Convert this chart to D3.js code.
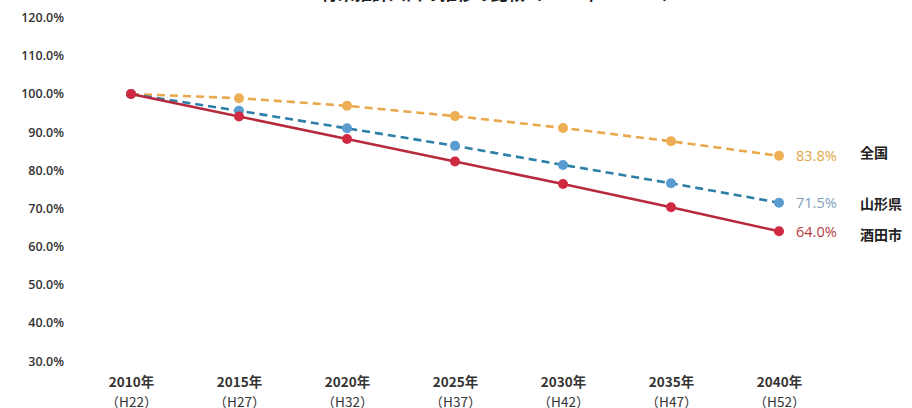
<!DOCTYPE html>
<html><head><meta charset="utf-8">
<script src="https://cdn.jsdelivr.net/npm/d3@7"></script>
<style>
html,body{margin:0;padding:0;background:#fff;}
svg{display:block;}
</style></head>
<body>
<svg id="c" width="912" height="408"></svg>
<script>
const title = "将来推計人口の推移の比較（2010年＝100%）";
const years = ["2010年","2015年","2020年","2025年","2030年","2035年","2040年"];
const eras = ["（H22）","（H27）","（H32）","（H37）","（H42）","（H47）","（H52）"];
const yTicks = [30,40,50,60,70,80,90,100,110,120];
const seriesNames = ["全国","山形県","酒田市"];
const zenkoku = [100, 98.9, 96.9, 94.2, 91.1, 87.6, 83.8];
const yamagata = [100, 95.6, 91.0, 86.4, 81.4, 76.6, 71.5];
const sakata = [100, 94.1, 88.2, 82.3, 76.4, 70.3, 64.0];

const series = [
  {name: seriesNames[0], values: zenkoku, line: "#E9A84B", dot: "#EDAE55", text: "#DDA845", dash: "8,5"},
  {name: seriesNames[1], values: yamagata, line: "#2C7FA6", dot: "#5A9CCF", text: "#7C9DBA", dash: "8,5"},
  {name: seriesNames[2], values: sakata, line: "#B72A3C", dot: "#D02A42", text: "#B53A40", dash: null}
];

const svg = d3.select("#c");
const x = d3.scalePoint().domain(years).range([131, 779]);
const y = d3.scaleLinear().domain([30, 120]).range([361, 17.7]);

// title (cropped at top, as in the reference)
svg.append("text").attr("x", 500).attr("y", 0).attr("text-anchor", "middle")
  .attr("font-family", "Noto Sans CJK JP").attr("font-weight", "bold").attr("font-size", 17)
  .attr("fill", "#222").text(title);

// y axis labels
const yAxis = d3.axisLeft(y).tickValues(yTicks).tickFormat(d => d.toFixed(1) + "%").tickSize(0).tickPadding(0);
const gy = svg.append("g").attr("transform", "translate(64,0)").call(yAxis);
gy.select(".domain").remove();
gy.selectAll("text").attr("font-family", "Open Sans, Liberation Sans, sans-serif")
  .attr("font-size", 12.5).attr("font-weight", 600).attr("fill", "#333");

// x axis labels
const xAxis = d3.axisBottom(x).tickSize(0).tickPadding(0).tickFormat(() => "");
const gx = svg.append("g").attr("transform", "translate(0,372)").call(xAxis);
gx.select(".domain").remove();
gx.selectAll(".tick text").remove();
gx.selectAll(".tick").each(function(d, i) {
  const t = d3.select(this);
  t.append("text").attr("y", 15).attr("text-anchor", "middle")
    .attr("font-family", "Noto Sans CJK JP, sans-serif")
    .attr("font-size", 13.5).attr("font-weight", "bold").attr("fill", "#333").text(years[i]);
  t.append("text").attr("y", 35).attr("text-anchor", "middle")
    .attr("font-family", "Noto Sans CJK JP, sans-serif")
    .attr("font-size", 13.5).attr("fill", "#333").text(eras[i]);
});

const line = d3.line().x((d, i) => x(years[i])).y(d => y(d));

series.forEach(s => {
  const g = svg.append("g");
  g.append("path").datum(s.values).attr("d", line).attr("fill", "none")
    .attr("stroke", s.line).attr("stroke-width", 2.6)
    .attr("stroke-dasharray", s.dash);
  g.selectAll("circle").data(s.values).join("circle")
    .attr("cx", (d, i) => x(years[i])).attr("cy", d => y(d)).attr("r", 5)
    .attr("fill", s.dot);
  const last = s.values[s.values.length - 1];
  g.append("text").attr("x", 796).attr("y", y(last)).attr("dy", "0.36em")
    .attr("font-family", "Open Sans, Liberation Sans, sans-serif").attr("font-size", 14.5)
    .attr("fill", s.text).text(last.toFixed(1) + "%");
});

// series name labels
const nameY = [153, 204, 235];
series.forEach((s, i) => {
  svg.append("text").attr("x", 860).attr("y", nameY[i]).attr("dy", "0.36em")
    .attr("font-family", "Noto Sans CJK JP, sans-serif").attr("font-size", 14).attr("font-weight", "bold")
    .attr("fill", "#222").text(s.name);
});
</script>
</body></html>
